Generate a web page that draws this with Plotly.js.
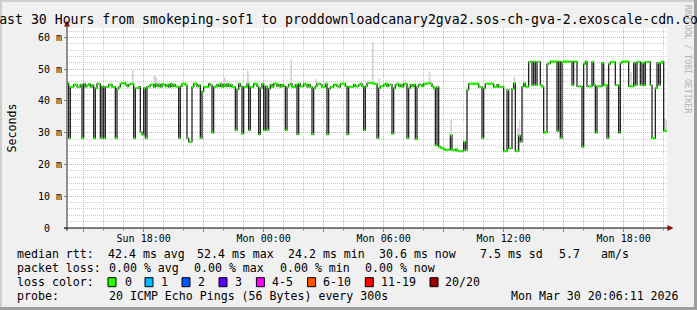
<!DOCTYPE html>
<html><head><meta charset="utf-8">
<script src="https://cdn.plot.ly/plotly-3.0.1.min.js"></script>
<style>html,body{margin:0;padding:0;background:#f0f0f0;} #chart{width:697px;height:310px;}</style>
</head><body><div id="chart"></div>
<script>
// ---- data ----
const startTime = Date.UTC(2026, 2, 29, 14, 10, 0); // first 5-min interval start
const stepMs = 300000;
const medianMs = [
  45.5, 28.3, 44.4, 44.4, 45.1, 45.1, 44.4, 44.4, 45.1, 28.3, 45.4, 44.5,
  45.0, 45.3, 44.4, 45.0, 28.3, 44.0, 45.4, 45.4, 28.3, 44.6, 28.3, 44.4,
  44.4, 45.1, 45.1, 44.4, 44.4, 28.3, 43.9, 44.4, 45.4, 45.6, 45.6, 45.1,
  44.6, 45.1, 45.4, 45.4, 28.3, 44.0, 44.0, 44.4, 30.2, 29.4, 44.0, 28.3,
  44.4, 44.6, 45.1, 45.1, 44.4, 45.3, 44.6, 45.1, 44.4, 45.3, 45.1, 44.6,
  45.1, 44.4, 45.4, 44.6, 45.1, 44.6, 44.4, 28.3, 44.6, 45.4, 45.4, 45.0,
  28.3, 27.1, 27.2, 44.4, 45.4, 45.4, 44.6, 45.0, 28.3, 43.0, 44.4, 44.4,
  44.4, 45.4, 45.0, 30.0, 44.4, 44.6, 45.1, 44.6, 45.4, 44.4, 45.1, 44.6,
  45.4, 44.6, 45.1, 44.4, 44.4, 30.8, 43.6, 45.4, 44.6, 29.7, 44.4, 44.4,
  45.4, 30.8, 44.4, 44.4, 45.4, 45.4, 44.6, 29.5, 44.0, 45.4, 30.8, 44.6,
  30.8, 43.9, 45.1, 44.4, 45.4, 45.4, 44.6, 45.1, 44.4, 45.1, 44.6, 30.8,
  44.4, 45.1, 45.4, 44.4, 44.4, 45.1, 29.5, 45.4, 44.6, 44.6, 45.4, 45.1,
  44.4, 45.1, 44.4, 29.5, 44.0, 44.6, 45.4, 45.4, 45.1, 44.4, 44.4, 45.4,
  29.5, 43.9, 44.4, 44.4, 45.1, 45.1, 44.6, 44.4, 45.4, 45.4, 45.4, 44.6,
  29.5, 44.4, 44.4, 44.4, 45.1, 44.6, 44.6, 45.1, 45.4, 44.6, 30.8, 44.6,
  45.6, 45.6, 45.6, 45.6, 45.4, 45.4, 28.3, 44.0, 44.6, 44.6, 45.1, 45.4,
  44.6, 45.1, 45.1, 29.7, 44.0, 45.1, 45.4, 44.6, 45.1, 44.4, 45.4, 45.4,
  28.3, 44.0, 45.1, 44.6, 45.1, 28.0, 44.4, 45.1, 45.1, 44.6, 45.4, 45.4,
  45.6, 45.6, 45.4, 44.6, 44.0, 26.0, 44.4, 25.6, 25.3, 25.1, 24.8, 24.5,
  24.7, 24.7, 29.2, 24.5, 24.5, 24.8, 24.3, 24.2, 24.2, 24.2, 27.1, 24.5,
  43.5, 45.4, 45.4, 45.4, 45.4, 45.4, 45.4, 44.4, 44.4, 28.3, 44.0, 45.4,
  45.4, 45.4, 45.4, 45.4, 44.4, 44.4, 45.1, 44.4, 44.4, 44.4, 24.2, 24.2,
  43.5, 25.1, 25.1, 43.8, 45.5, 24.2, 24.2, 29.0, 27.1, 44.5, 45.5, 44.5,
  44.5, 52.2, 52.4, 45.0, 52.3, 45.0, 52.3, 52.3, 45.0, 44.5, 30.0, 30.2,
  51.6, 51.8, 52.4, 52.4, 52.4, 52.4, 30.5, 52.4, 28.3, 52.2, 52.4, 52.4,
  52.4, 52.3, 52.4, 45.0, 52.4, 52.4, 44.6, 44.6, 44.6, 25.5, 51.6, 52.4,
  44.6, 44.6, 44.6, 52.3, 45.0, 30.0, 44.6, 44.6, 44.6, 52.0, 45.0, 45.0,
  28.3, 51.6, 52.2, 52.2, 52.2, 45.0, 45.0, 30.0, 52.0, 52.4, 52.4, 52.4,
  52.4, 44.6, 44.6, 44.6, 52.0, 45.0, 52.3, 52.3, 45.0, 52.0, 45.0, 52.3,
  52.3, 52.3, 45.0, 28.3, 28.3, 44.0, 52.0, 45.0, 52.0, 52.4, 30.6, 30.6
];
// "smoke": spread of the 20 pings above the median at a few intervals
const smokeIdx   = [39, 52, 53, 55, 94, 108, 134, 149, 183, 187, 217, 230, 268, 270, 271, 338, 358, 359];
const smokeMaxMs = [49.6, 48.0, 47.5, 46.5, 47.5, 49.5, 53.0, 46.8, 58.5, 47.1, 49.1, 34.0, 47.5, 31.4, 34.0, 49.1, 34.6, 34.0];

const yTickVals = [0, 10, 20, 30, 40, 50, 60];
const yTickText = ['0\u00a0\u00a0', '10 m', '20 m', '30 m', '40 m', '50 m', '60 m'];
const xTickVals = ['2026-03-29 15:00', '2026-03-29 18:00', '2026-03-29 21:00', '2026-03-30 00:00', '2026-03-30 03:00',
                   '2026-03-30 06:00', '2026-03-30 09:00', '2026-03-30 12:00', '2026-03-30 15:00', '2026-03-30 18:00'];
const xTickText = ['', 'Sun 18:00', '', 'Mon 00:00', '', 'Mon 06:00', '', 'Mon 12:00', '', 'Mon 18:00'];
const xRange = ['2026-03-29 14:10', '2026-03-30 20:10'];

const titleText = 'Last 30 Hours from smokeping-sof1 to proddownloadcanary2gva2.sos-ch-gva-2.exoscale-cdn.com';
const rttLabel = 'median rtt:';
const rttItems = ['42.4 ms avg', '52.4 ms max', '24.2 ms min', '30.6 ms now', '7.5 ms sd', '5.7', 'am/s'];
const lossLabel = 'packet loss:';
const lossItems = ['0.00 % avg', '0.00 % max', '0.00 % min', '0.00 % now'];
const colorLabel = 'loss color:';
const lossColorNames = ['0', '1', '2', '3', '4-5', '6-10', '11-19', '20/20'];
const lossColors = ['#26ff00', '#00b8ff', '#0059ff', '#5e00ff', '#ff00fe', '#ff5500', '#ff0000', '#a10000'];
const probeLabel = 'probe:';
const probeText = '20 ICMP Echo Pings (56 Bytes) every 300s';
const dateText = 'Mon Mar 30 20:06:11 2026';
const watermark = 'RRDTOOL / TOBI OETIKER';

// ---- layout helpers (pixel -> paper) ----
const L = 67, T = 28, W = 600, H = 200;
const px = p => (p - L) / W;
const py = p => (T + H - p) / H;
const FONT = 'DejaVu Sans Mono';

// ---- traces ----
const starts = medianMs.map((v, i) => startTime + i * stepMs);
const stepX = starts.concat([startTime + medianMs.length * stepMs]);
const stepY = medianMs.concat([medianMs[medianMs.length - 1]]);

const segX = [], segY = [];
medianMs.forEach((v, i) => {
  segX.push(starts[i], starts[i] + stepMs, null);
  segY.push(v, v, null);
});

const smoke = {
  type: 'bar',
  x: smokeIdx.map(i => starts[i] + stepMs / 2),
  base: smokeIdx.map(i => medianMs[i]),
  y: smokeIdx.map((i, k) => smokeMaxMs[k] - medianMs[i]),
  width: stepMs,
  marker: {color: '#d2d2d2', line: {width: 0}},
  hoverinfo: 'skip', showlegend: false
};
const medLine = {
  type: 'scatter', mode: 'lines', x: stepX, y: stepY,
  line: {shape: 'hv', color: '#1e1e1e', width: 1.25},
  hoverinfo: 'skip', showlegend: false
};
const medGreen = {
  type: 'scatter', mode: 'lines', x: segX, y: segY,
  line: {color: '#26ff00', width: 2.3}, connectgaps: false,
  hoverinfo: 'skip', showlegend: false
};

// ---- annotations ----
const ann = [];
const txt = (text, xp, yp, opts) => Object.assign({
  text: text, xref: 'paper', yref: 'paper', x: px(xp), y: py(yp),
  xanchor: 'left', yanchor: 'middle', showarrow: false, borderpad: 0,
  font: {family: FONT, size: 11.6, color: '#000'}
}, opts || {});

const rowY = [254.3, 268.3, 282.2, 296.0];
const rttX = [106.7, 195.5, 286.5, 378, 479.1, 557.8, 600];
const lossX = [107.6, 193.3, 279, 364.4];
const boxX = [108, 145, 182, 219, 256.4, 307.6, 365.3, 430];
const boxLabelX = [123.6, 160, 197, 234, 271, 322, 380, 444.4];

ann.push(txt(rttLabel, 15.5, rowY[0]));
rttItems.forEach((t, k) => ann.push(txt(t, rttX[k], rowY[0])));
ann.push(txt(lossLabel, 15.5, rowY[1]));
lossItems.forEach((t, k) => ann.push(txt(t, lossX[k], rowY[1])));
ann.push(txt(colorLabel, 15.5, rowY[2]));
lossColorNames.forEach((t, k) => ann.push(txt(t, boxLabelX[k], rowY[2])));
ann.push(txt(probeLabel, 15.5, rowY[3]));
ann.push(txt(probeText, 107.6, rowY[3]));
ann.push(txt(dateText, 680, rowY[3], {xanchor: 'right'}));
ann.push(txt(watermark, 688, 59, {xanchor: 'center', textangle: 90, font: {family: FONT, size: 8.2, color: '#b4b4b4'}}));

// ---- shapes ----
const shapes = [];
// legend colour boxes
lossColors.forEach((c, k) => shapes.push({
  type: 'rect', xref: 'paper', yref: 'paper',
  x0: px(boxX[k]), x1: px(boxX[k] + 8), y0: py(286.7), y1: py(277.7),
  fillcolor: c, line: {color: '#000', width: 1}
}));
// axes lines and arrows
shapes.push({type: 'line', xref: 'paper', yref: 'paper', x0: px(67), x1: px(67), y0: py(231), y1: py(24), line: {color: '#2a2a2a', width: 1}});
shapes.push({type: 'line', xref: 'paper', yref: 'paper', x0: px(64), x1: px(669), y0: py(228), y1: py(228), line: {color: '#000', width: 1}});
shapes.push({type: 'path', xref: 'paper', yref: 'paper',
  path: `M ${px(64)} ${py(26.5)} L ${px(70)} ${py(26.5)} L ${px(67)} ${py(20.5)} Z`,
  fillcolor: '#8b1010', line: {width: 0}});
shapes.push({type: 'path', xref: 'paper', yref: 'paper',
  path: `M ${px(667.5)} ${py(225)} L ${px(667.5)} ${py(231)} L ${px(673.5)} ${py(228)} Z`,
  fillcolor: '#8b1010', line: {width: 0}});
// 3D frame of the image
shapes.push({type: 'rect', xref: 'paper', yref: 'paper', x0: px(0), x1: px(2), y0: py(310), y1: py(0), fillcolor: '#cfcfcf', line: {width: 0}});
shapes.push({type: 'rect', xref: 'paper', yref: 'paper', x0: px(0), x1: px(697), y0: py(2), y1: py(0), fillcolor: '#cfcfcf', line: {width: 0}});
shapes.push({type: 'rect', xref: 'paper', yref: 'paper', x0: px(694), x1: px(697), y0: py(310), y1: py(0), fillcolor: '#9e9e9e', line: {width: 0}});
shapes.push({type: 'rect', xref: 'paper', yref: 'paper', x0: px(0), x1: px(697), y0: py(310), y1: py(307), fillcolor: '#9e9e9e', line: {width: 0}});

const gridMajor = '#e8a8a8', gridMinor = '#cdcdcd', dash = '1px,1px';

const layout = {
  width: 697, height: 310, autosize: false,
  margin: {l: L, r: 697 - L - W, t: T, b: 310 - T - H, pad: 0},
  paper_bgcolor: '#f0f0f0', plot_bgcolor: '#ffffff',
  showlegend: false, hovermode: false, barmode: 'overlay',
  title: {text: titleText, font: {family: FONT, size: 13.2, color: '#000'},
          xref: 'container', x: 0.5, xanchor: 'center', yref: 'container', y: 1 - 19 / 310, yanchor: 'middle'},
  xaxis: {
    type: 'date', range: xRange, fixedrange: true,
    tickmode: 'array', tickvals: xTickVals, ticktext: xTickText,
    ticks: 'outside', ticklen: 3, tickcolor: '#d06060', tickwidth: 1, ticklabelstandoff: -2,
    tickfont: {family: FONT, size: 10, color: '#000'},
    showgrid: true, gridcolor: gridMajor, griddash: dash, gridwidth: 1,
    minor: {dtick: 3600000, tick0: '2026-03-29 14:00', showgrid: true, gridcolor: gridMinor, griddash: dash,
            ticks: 'outside', ticklen: 2, tickcolor: '#a0a0a0'},
    zeroline: false, showline: false
  },
  yaxis: {
    range: [0, 62.95], fixedrange: true,
    tickmode: 'array', tickvals: yTickVals, ticktext: yTickText,
    ticks: 'outside', ticklen: 2, tickcolor: '#d06060',
    tickfont: {family: FONT, size: 10, color: '#000'},
    showgrid: true, gridcolor: gridMajor, griddash: dash, gridwidth: 1,
    minor: {dtick: 2, showgrid: true, gridcolor: gridMinor, griddash: dash},
    zeroline: false, showline: false,
    title: {text: 'Seconds', font: {family: FONT, size: 11.6, color: '#000'}, standoff: 18}
  },
  annotations: ann,
  shapes: shapes
};

Plotly.newPlot('chart', [smoke, medLine, medGreen], layout, {staticPlot: true, displayModeBar: false});
</script>
</body></html>
